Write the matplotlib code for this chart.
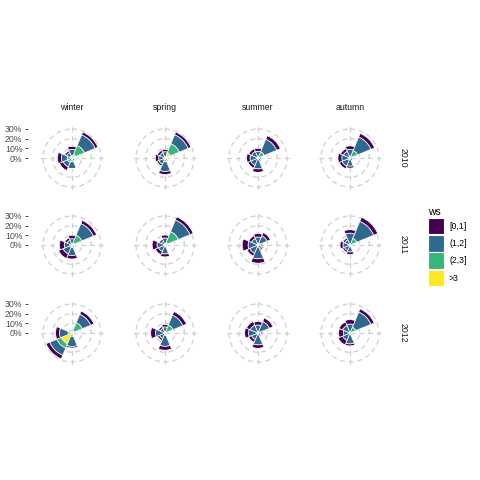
import numpy as np
import matplotlib.pyplot as plt
from matplotlib.patches import Patch

plt.rcParams['font.family'] = ['Liberation Sans', 'DejaVu Sans']

seasons = ["winter", "spring", "summer", "autumn"]
years = ["2010", "2011", "2012"]
directions = [0, 45, 90, 135, 180, 225, 270, 315]  # N, NE, E, SE, S, SW, W, NW
ws_labels = ["[0,1]", "(1,2]", "(2,3]", ">3"]
ws_colors = ["#440154", "#31688E", "#35B779", "#FDE725"]
r_ticks = [0, 10, 20, 30]

# % of records per direction (N, NE, E, SE, S, SW, W, NW)
# one row per panel: 2010 winter..autumn, 2011 winter..autumn, 2012 winter..autumn
ws_0_1 = [
    [3, 3, 0.5, 0.5, 0.5, 4, 4, 2],
    [2.5, 3, 0.5, 0.5, 3, 2, 3.5, 2.5],
    [3, 4, 0.5, 1, 3.5, 3, 3.5, 3],
    [3.5, 4, 0.5, 0.5, 2, 3, 4, 3],
    [3.5, 3.5, 0.5, 0.5, 3.5, 5, 5, 2.5],
    [3, 3.5, 0.5, 0.5, 3, 3.5, 5, 2],
    [3.5, 3.5, 1, 1.5, 4.5, 3, 6, 3],
    [3.5, 4.5, 0.5, 0.5, 2.5, 2, 3, 2],
    [1, 3.5, 0.5, 0.5, 1.5, 4, 4, 1],
    [2.5, 4, 0.5, 0.5, 4, 2, 5, 2],
    [3.5, 4, 1, 1, 3.5, 3, 4, 4],
    [4.5, 3.5, 0.5, 0.5, 2, 5, 5, 4],
]
ws_1_2 = [
    [6.5, 12, 1, 2, 7, 5, 6, 4],
    [5, 10, 1, 1.5, 10, 5, 5, 4.5],
    [5.5, 14, 2, 2, 10, 7, 7, 6],
    [7, 15, 1.5, 2, 7, 7, 7, 6],
    [5, 13, 1, 1.5, 8.5, 7.5, 5.5, 4],
    [6, 13, 1, 1, 8, 6, 7, 3.5],
    [7, 8, 2, 3, 12, 8, 9, 6],
    [11, 19, 1, 1.5, 6, 5, 6, 5],
    [1.5, 9.5, 1, 1, 10.5, 8, 9, 1.5],
    [5, 11, 1, 1, 11, 5, 8, 4],
    [7, 11, 2, 2, 11, 6, 8.5, 7.5],
    [8, 17, 1, 1.5, 10, 7, 6, 7],
]
ws_2_3 = [
    [2, 10, 1, 1, 3, 4, 4, 1.5],
    [1, 10, 1, 1, 3.5, 1.5, 1, 1],
    [1, 6, 1.5, 1, 1, 1, 1, 1],
    [1.5, 7, 1, 1, 1, 1.5, 1, 1],
    [1, 9, 1, 1, 2, 2, 2, 1],
    [1, 12, 0.5, 0.5, 1, 1, 1, 0.5],
    [1, 2, 2, 1, 2, 1, 1, 1],
    [1, 7, 0.5, 0.5, 1, 1, 1, 0.5],
    [0.5, 9, 0.5, 0.5, 2.5, 5, 3, 0.5],
    [1, 8, 0.5, 0.5, 2.5, 1, 1.5, 1],
    [1, 1.5, 2, 1, 1, 1, 1, 1],
    [1, 6, 0.5, 0.5, 1, 1, 0.5, 1],
]
ws_3 = [
    [0.5, 4, 0.5, 0.5, 1, 1, 1, 0.5],
    [0.5, 6, 0.5, 0.5, 0.5, 0.5, 0.5, 0.5],
    [0.5, 1, 0.3, 0.3, 0.3, 0.3, 0.3, 0.3],
    [0.5, 1.5, 0.3, 0.3, 0.5, 0.5, 0.5, 0.5],
    [0.5, 2, 0.5, 0.5, 0.5, 0.5, 0.5, 0.5],
    [0.3, 3, 0.3, 0.3, 0.3, 0.3, 0.3, 0.3],
    [0.3, 0.3, 0.3, 0.3, 0.3, 0.3, 0.3, 0.3],
    [0.3, 0.5, 0.3, 0.3, 0.3, 0.3, 0.3, 0.3],
    [0.5, 2.5, 0.5, 0.5, 1, 12, 1, 0.5],
    [0.3, 1, 0.3, 0.3, 0.3, 0.3, 0.3, 0.3],
    [0.3, 0.3, 0.3, 0.3, 0.3, 0.3, 0.3, 0.3],
    [0.3, 0.5, 0.3, 0.3, 0.3, 0.3, 0.3, 0.3],
]

W = 480
col_x = [72, 165, 258, 350]
row_y = [158, 245, 333]
R = 33        # radial limit in %
k = 0.967     # px per %
h = R * k

fig = plt.figure(figsize=(4.8, 4.8), dpi=100)
theta = np.radians(directions)
width = np.radians(45)
# stack from the centre outwards: >3, (2,3], (1,2], [0,1]
layers = [ws_3, ws_2_3, ws_1_2, ws_0_1]
layer_colors = ws_colors[::-1]

for i, yr in enumerate(years):
    for j, s in enumerate(seasons):
        p = i * 4 + j
        cx, cy = col_x[j], row_y[i]
        ax = fig.add_axes([(cx - h) / W, 1 - (cy + h) / W, 2 * h / W, 2 * h / W],
                          projection='polar')
        ax.set_theta_zero_location('N')
        ax.set_theta_direction(-1)
        ax.set_ylim(0, R)
        ax.set_xticks(np.radians([0, 90, 180, 270]))
        ax.set_xticklabels([])
        ax.set_yticks(r_ticks[1:])
        ax.set_yticklabels([])
        ax.tick_params(length=0)
        ax.grid(color='#D0D0D0', linestyle=(0, (4, 3)), linewidth=0.9)
        ax.spines['polar'].set_visible(False)
        ax.set_axisbelow(True)
        bottom = np.zeros(len(directions))
        for vals, c in zip(layers, layer_colors):
            v = np.array(vals[p])
            ax.bar(theta, v, width=width, bottom=bottom, color=c,
                   edgecolor='white', linewidth=0.5)
            bottom = bottom + v

        if i == 0:
            fig.text(cx / W, 1 - 107 / W, s, ha='center', va='center',
                     fontsize=6.3, color='#1A1A1A')
    fig.text(403 / W, 1 - row_y[i] / W, yr, ha='center', va='center',
             rotation=-90, fontsize=6.3, color='#1A1A1A')

    # radial axis on the left
    tax = fig.add_axes([28 / W, 1 - (row_y[i] + h) / W, 1 / W, 2 * h / W])
    tax.set_ylim(-R, R)
    tax.set_xticks([])
    tax.set_yticks(r_ticks)
    tax.set_yticklabels([f"{t}%" for t in r_ticks])
    tax.tick_params(axis='y', length=2.2, width=0.6, color='#333333',
                    labelsize=6.3, labelcolor='#4D4D4D', pad=1.8)
    for sp in tax.spines.values():
        sp.set_visible(False)
    tax.patch.set_visible(False)

handles = [Patch(facecolor=c, edgecolor='white', linewidth=0.8) for c in ws_colors]
fig.legend(handles, ws_labels, loc='upper left',
           bbox_to_anchor=(428 / W, 1 - 207 / W), frameon=False, title='ws',
           alignment='left', fontsize=6.3, title_fontsize=7.5,
           handlelength=1.8, handleheight=2.58, handletextpad=0.6,
           labelspacing=0.06, borderpad=0, borderaxespad=0)

fig.savefig('out.png', dpi=100, facecolor='white')
